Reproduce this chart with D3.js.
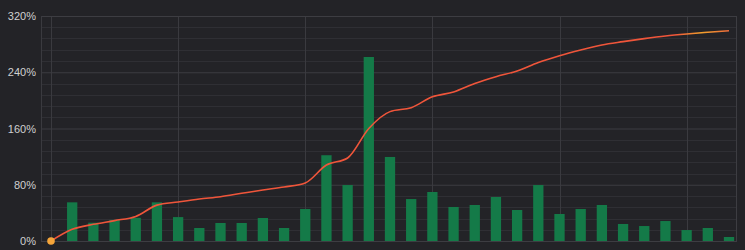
<!DOCTYPE html>
<html>
<head>
<meta charset="utf-8">
<script src="https://cdn.jsdelivr.net/npm/d3@7"></script>
<style>
  html, body { margin: 0; padding: 0; background: #232327; }
  svg { display: block; }
</style>
</head>
<body>
<div id="vis"></div>
<script>
// chart data (percent)
let ticks = [0, 80, 160, 240, 320];
let barValues = [0, 55, 26, 30, 33, 55, 34, 18.5, 25.6, 25.6, 32.7, 18.5, 45.5, 122, 79.6, 261.7,
  119.5, 59.7, 69.7, 48.4, 51.2, 62.6, 44.1, 79.6, 38.4, 45.5, 51.2, 24.2, 21.3, 28.4, 15.6, 18.5, 5.7];
let lineValues = [0, 16.6, 23.7, 29, 35, 51, 55.5, 59.7, 63, 67.8, 72.5, 76.8, 82.5, 108, 118, 160,
  184, 189.6, 205, 212, 224, 233.7, 241.8, 254, 263.6, 271.7, 278.8, 283.5, 287.8, 291.6, 294.5, 296.9, 299];

let W = 745, H = 250;
let margin = { top: 16, left: 41, right: 8, bottom: 9 };

let svg = d3.select('#vis')
  .append('svg')
  .attr('width', W)
  .attr('height', H)
  .style('background-color', '#232327');

let x = d3.scaleLinear()
  .domain([0, barValues.length - 1])
  .range([51, 729]);

let y = d3.scaleLinear()
  .domain([0, 320])
  .range([H - margin.bottom, margin.top]);

let left = margin.left, right = W - margin.right;

// minor grid every 16%
let minor = d3.range(0, 321, 16).filter(v => v % 80 !== 0);
svg.append('g')
  .selectAll('line')
  .data(minor)
  .join('line')
  .attr('x1', left).attr('x2', right)
  .attr('y1', d => Math.round(y(d)) + 0.5).attr('y2', d => Math.round(y(d)) + 0.5)
  .attr('stroke', '#2f2f34');

// vertical grid every 6 points
svg.append('g')
  .selectAll('line')
  .data(d3.range(0, barValues.length, 6))
  .join('line')
  .attr('x1', d => Math.round(x(d)) + 0.5).attr('x2', d => Math.round(x(d)) + 0.5)
  .attr('y1', margin.top).attr('y2', H - margin.bottom)
  .attr('stroke', '#3a3a3f');

// major grid + y axis labels
let yAxis = d3.axisLeft(y)
  .tickValues(ticks)
  .tickSize(-(right - left))
  .tickPadding(5)
  .tickFormat(d => d + '%');

let gy = svg.append('g')
  .attr('transform', `translate(${left},0)`)
  .call(yAxis);
gy.select('.domain').remove();
gy.selectAll('.tick line').attr('stroke', '#3d3d42');
gy.selectAll('.tick text')
  .attr('fill', '#d0d0d0')
  .attr('font-family', 'Liberation Sans, Arial, sans-serif')
  .attr('font-size', 11);

// frame on left and right
svg.append('line')
  .attr('x1', left + 0.5).attr('x2', left + 0.5)
  .attr('y1', margin.top).attr('y2', H - margin.bottom)
  .attr('stroke', '#3a3a3f');
svg.append('line')
  .attr('x1', right - 0.5).attr('x2', right - 0.5)
  .attr('y1', margin.top).attr('y2', H - margin.bottom)
  .attr('stroke', '#3d3d42');

// bars
let bw = 10.3;
svg.append('g')
  .selectAll('rect')
  .data(barValues.map((v, i) => ({ i: i, v: v })).filter(d => d.v > 0))
  .join('rect')
  .attr('x', d => x(d.i) - bw / 2)
  .attr('width', bw)
  .attr('y', d => y(d.v))
  .attr('height', d => y(0) - y(d.v))
  .attr('fill', '#147a48');

// line gradient (yellowish near the end)
let grad = svg.append('defs').append('linearGradient')
  .attr('id', 'lineGrad')
  .attr('gradientUnits', 'userSpaceOnUse')
  .attr('x1', x(0)).attr('x2', x(barValues.length - 1))
  .attr('y1', 0).attr('y2', 0);
grad.append('stop').attr('offset', '0%').attr('stop-color', '#f0553a');
grad.append('stop').attr('offset', '92%').attr('stop-color', '#f0553a');
grad.append('stop').attr('offset', '96%').attr('stop-color', '#f2a02c');
grad.append('stop').attr('offset', '100%').attr('stop-color', '#ec6a3a');

let line = d3.line()
  .x((d, i) => x(i))
  .y(d => y(d))
  .curve(d3.curveMonotoneX);

svg.append('path')
  .datum(lineValues)
  .attr('d', line)
  .attr('fill', 'none')
  .attr('stroke', 'url(#lineGrad)')
  .attr('stroke-width', 1.6);

// start marker
svg.append('circle')
  .attr('cx', x(0))
  .attr('cy', y(lineValues[0]))
  .attr('r', 3.8)
  .attr('fill', '#f5a53a');
</script>
</body>
</html>
